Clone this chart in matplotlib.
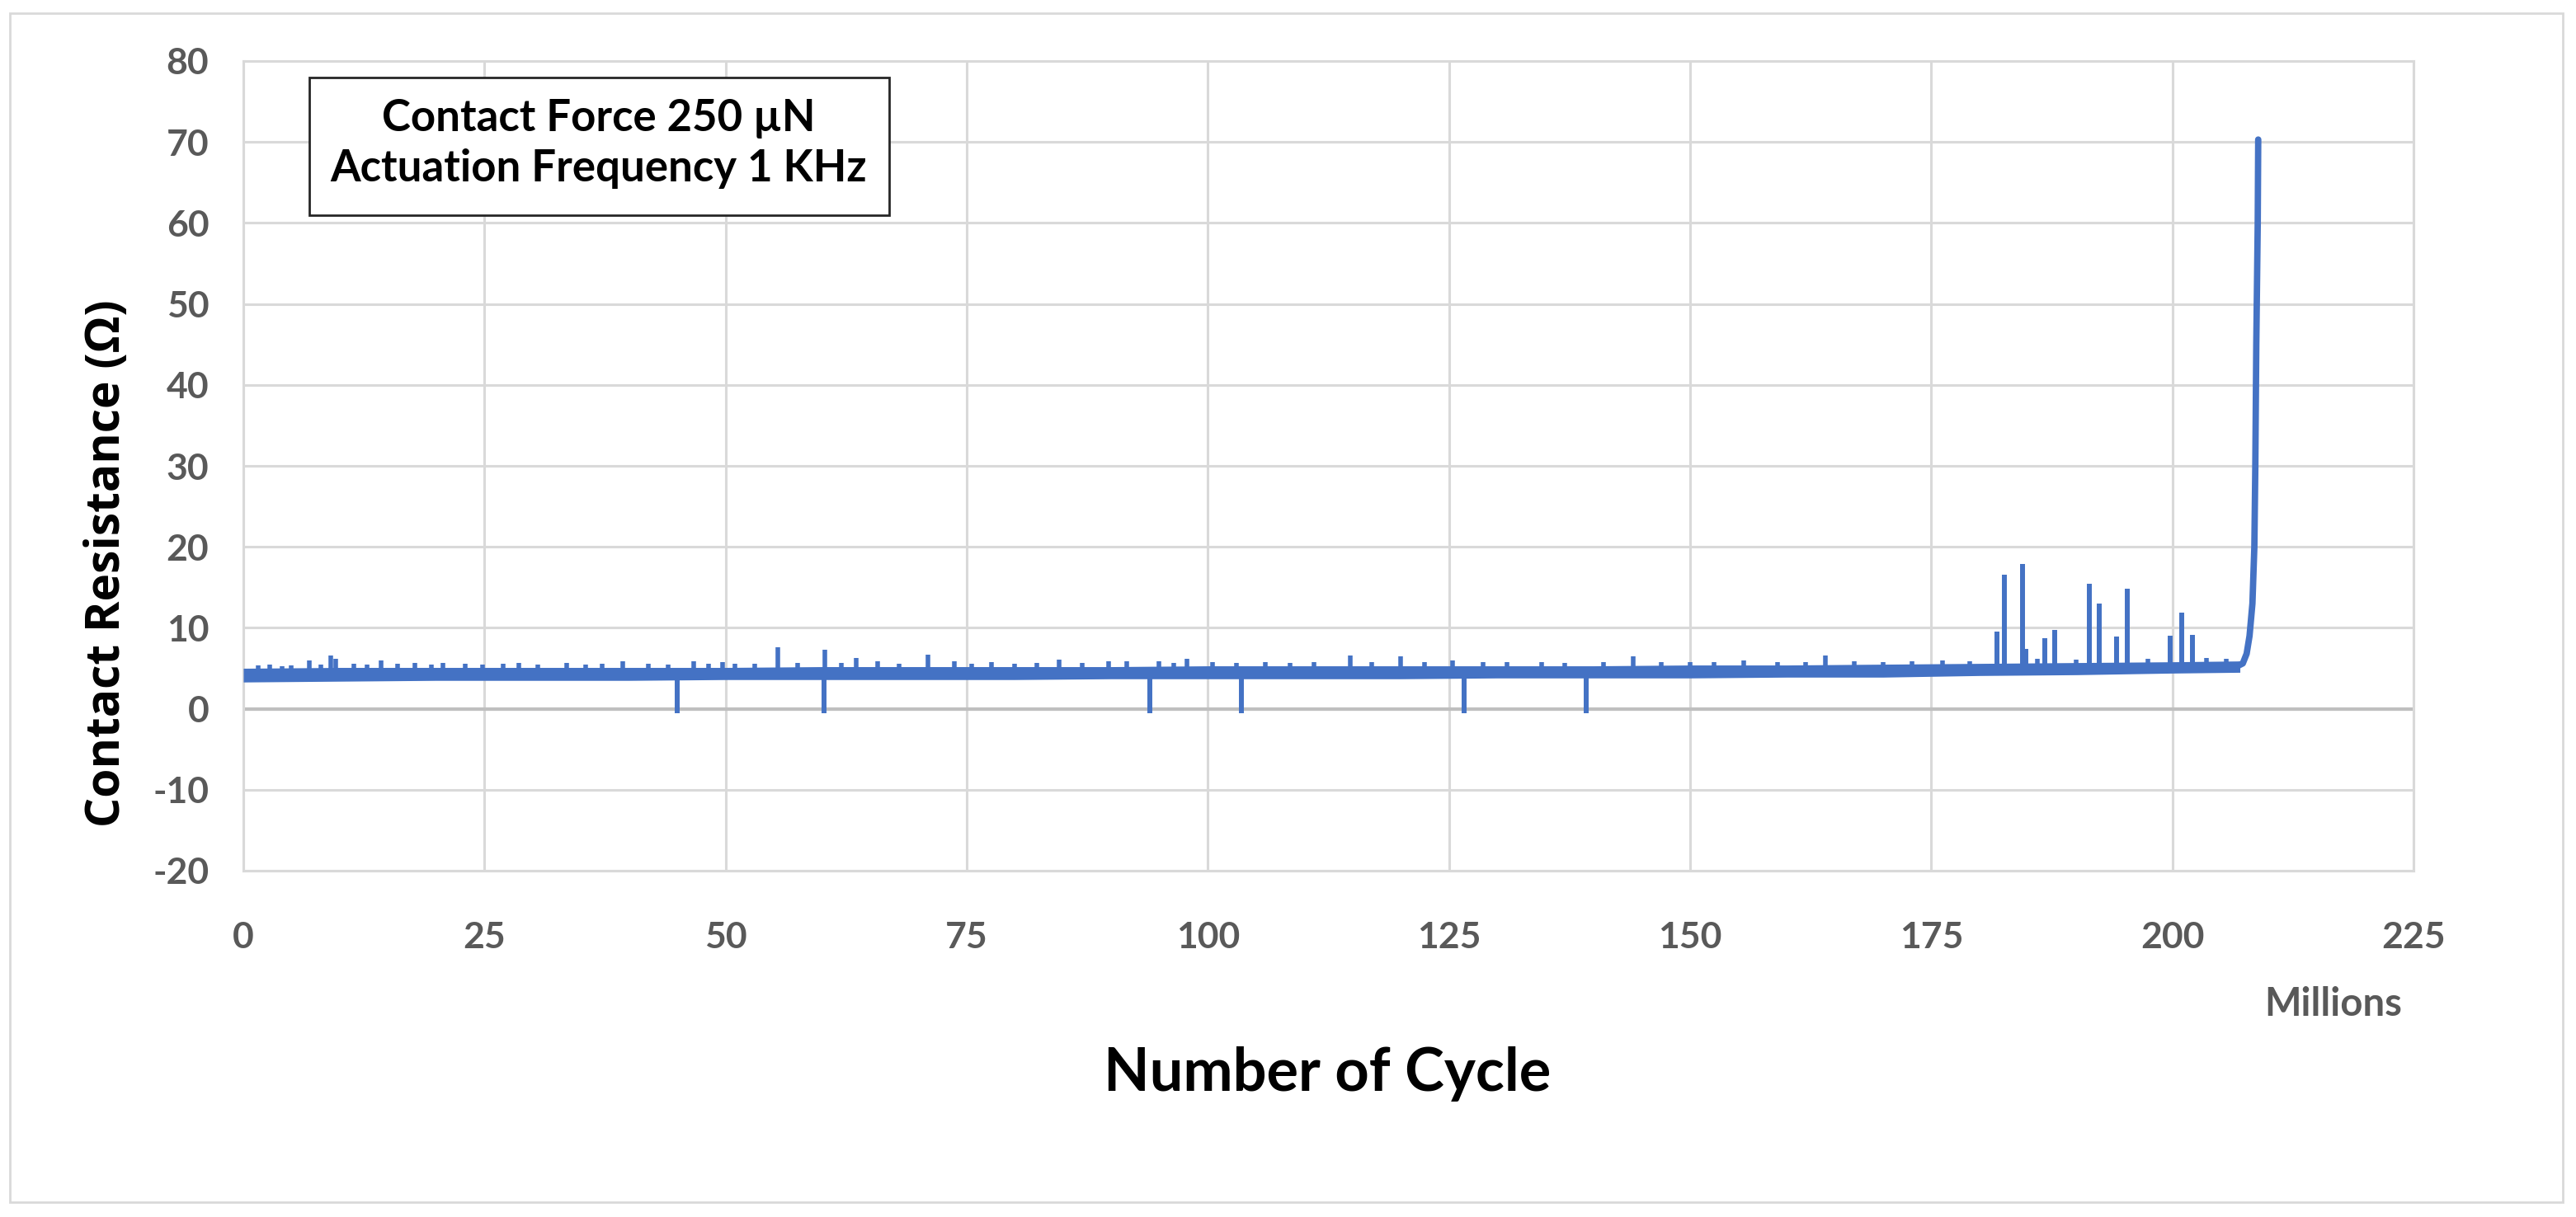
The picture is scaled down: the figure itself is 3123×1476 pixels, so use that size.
import matplotlib
matplotlib.use("Agg")
import matplotlib.pyplot as plt
from matplotlib.patches import Rectangle

plt.rcParams["axes.unicode_minus"] = False

# cycles in millions, resistance in ohm
band_x = [0, 10, 20, 30, 40, 50, 60, 70, 80, 90, 100, 110, 120, 130, 140,
          150, 160, 170, 180, 190, 200, 207]
band_low = [3.3, 3.4, 3.5, 3.5, 3.5, 3.6, 3.6, 3.6, 3.6, 3.7, 3.7, 3.7, 3.7,
            3.8, 3.8, 3.8, 3.9, 3.9, 4.1, 4.2, 4.4, 4.5]
band_high = [5.0, 5.1, 5.1, 5.1, 5.1, 5.1, 5.2, 5.2, 5.2, 5.2, 5.3, 5.3, 5.3,
             5.3, 5.3, 5.4, 5.4, 5.5, 5.6, 5.7, 5.8, 5.9]

# small noise bumps on top of the band
bump_x = [1.5, 2.7, 4.0, 5.0, 6.8, 8.0, 9.1, 9.6, 11.5, 12.8, 14.3, 16.0,
          17.8, 19.5, 20.7, 23.0, 24.8, 26.9, 28.6, 30.5, 33.5, 35.5, 37.2,
          39.3, 42.0, 44.0, 46.7, 48.2, 49.7, 51.0, 53.0, 55.4, 57.5, 60.3,
          62.0, 63.5, 65.8, 68.0, 71.0, 73.7, 75.5, 77.6, 80.0, 82.3, 84.6,
          87.0, 89.7, 91.6, 94.9, 96.5, 97.8, 100.5, 103.0, 106.0, 108.5,
          111.0, 114.8, 117.0, 120.0, 122.5, 125.4, 128.5, 131.0, 134.6,
          137.0, 141.0, 144.1, 147.0, 150.0, 152.5, 155.6, 159.1, 162.0,
          164.0, 167.0, 170.0, 173.0, 176.2, 179.0, 186.0, 190.0, 197.5,
          203.5, 205.6]
bump_y = [5.4, 5.5, 5.3, 5.4, 6.0, 5.5, 6.6, 6.2, 5.6, 5.5, 6.0, 5.6, 5.7,
          5.5, 5.7, 5.6, 5.5, 5.6, 5.7, 5.5, 5.7, 5.5, 5.6, 5.9, 5.6, 5.5,
          5.9, 5.6, 5.8, 5.6, 5.6, 7.6, 5.7, 7.3, 5.7, 6.3, 5.9, 5.6, 6.7,
          5.9, 5.6, 5.8, 5.6, 5.7, 6.1, 5.7, 5.9, 5.9, 5.9, 5.7, 6.2, 5.8,
          5.7, 5.8, 5.7, 5.8, 6.6, 5.8, 6.5, 5.8, 6.0, 5.8, 5.8, 5.8, 5.7,
          5.8, 6.5, 5.8, 5.8, 5.8, 6.0, 5.8, 5.8, 6.6, 5.9, 5.8, 5.9, 6.0,
          5.9, 6.2, 6.1, 6.2, 6.3, 6.2]

# large spikes before failure
spike_x = [181.8, 182.6, 184.5, 184.8, 186.8, 187.8, 191.4, 192.4, 194.2,
           195.3, 199.8, 201.0, 202.1]
spike_y = [9.5, 16.6, 17.9, 7.4, 8.7, 9.7, 15.4, 13.0, 8.9, 14.8, 9.0, 11.9, 9.1]

# negative drop-outs
drop_x = [45.0, 60.2, 94.0, 103.5, 126.6, 139.2]
drop_y = [-0.6, -0.6, -0.5, -0.5, -0.5, -0.5]

# final failure rise
rise_x = [206.8, 207.3, 207.7, 208.0, 208.3, 208.5, 208.6, 208.7, 208.85, 208.9]
rise_y = [5.3, 5.6, 6.8, 9.0, 13.0, 20.0, 30.0, 45.0, 60.0, 70.3]

x_ticks = [0, 25, 50, 75, 100, 125, 150, 175, 200, 225]
y_ticks = [-20, -10, 0, 10, 20, 30, 40, 50, 60, 70, 80]

blue = "#4472C4"
grey_txt = "#595959"
grid_c = "#D9D9D9"

fig = plt.figure(figsize=(31.23, 14.76), dpi=100)
ax = fig.add_axes([295 / 3123, 1 - 1056 / 1476, 2631 / 3123, 982 / 1476])

ax.set_xlim(0, 225)
ax.set_ylim(-20, 80)
ax.set_xticks(x_ticks)
ax.set_yticks(y_ticks)
ax.grid(True, color=grid_c, linewidth=2.2)
ax.set_axisbelow(True)
for s in ax.spines.values():
    s.set_color(grid_c)
    s.set_linewidth(2.2)
ax.axhline(0, color="#BFBFBF", linewidth=3, zorder=1)
ax.tick_params(length=0, labelsize=32, labelcolor=grey_txt)
ax.tick_params(axis="x", pad=44)
ax.tick_params(axis="y", pad=30)
for lab in ax.get_xticklabels() + ax.get_yticklabels():
    lab.set_fontfamily("Lato")
    lab.set_fontweight("bold")

lw = 4.3
ax.fill_between(band_x, band_low, band_high, color=blue, linewidth=0, zorder=3)
base_mid = [(lo + hi) / 2 for lo, hi in zip(band_low, band_high)]

def base_at(x):
    for i in range(len(band_x) - 1):
        if band_x[i] <= x <= band_x[i + 1]:
            t = (x - band_x[i]) / (band_x[i + 1] - band_x[i])
            return base_mid[i] + t * (base_mid[i + 1] - base_mid[i])
    return base_mid[-1]

ax.vlines(bump_x, [base_at(x) for x in bump_x], bump_y, color=blue, linewidth=4, zorder=3)
ax.vlines(spike_x, [base_at(x) for x in spike_x], spike_y, color=blue, linewidth=lw, zorder=3)
ax.vlines(drop_x, [base_at(x) for x in drop_x], drop_y, color=blue, linewidth=lw, zorder=3)
ax.plot(rise_x, rise_y, color=blue, linewidth=lw * 1.3, solid_capstyle="round", zorder=3)

# annotation box
ax.add_patch(Rectangle((0.0304, 0.8096), 0.2672, 0.17, transform=ax.transAxes,
                       facecolor="white", edgecolor="#262626", linewidth=2, zorder=4))
ax.text(0.1638, 0.9297, "Contact Force 250 µN", transform=ax.transAxes,
        ha="center", va="center", fontsize=38, family="Lato", fontweight="bold", zorder=5)
ax.text(0.1638, 0.8666, "Actuation Frequency 1 KHz", transform=ax.transAxes,
        ha="center", va="center", fontsize=38, family="Lato", fontweight="bold", zorder=5)

fig.text(130 / 3123, 1 - 683 / 1476, "Contact Resistance (Ω)", rotation=90,
         ha="center", va="center", fontsize=41, family="Open Sans", fontweight="bold")
fig.text(1609 / 3123, 1 - 1303 / 1476, "Number of Cycle", ha="center", va="center",
         fontsize=52, family="Lato", fontweight="bold")
fig.text(2912 / 3123, 1 - 1218 / 1476, "Millions", ha="right", va="center",
         fontsize=34, family="Lato", fontweight="bold", color=grey_txt)

fig.patches.append(Rectangle((12 / 3123, 18 / 1476), 3095 / 3123, 1442 / 1476,
                             transform=fig.transFigure, fill=False,
                             edgecolor="#D9D9D9", linewidth=2))

fig.savefig("out.png", dpi=100)
